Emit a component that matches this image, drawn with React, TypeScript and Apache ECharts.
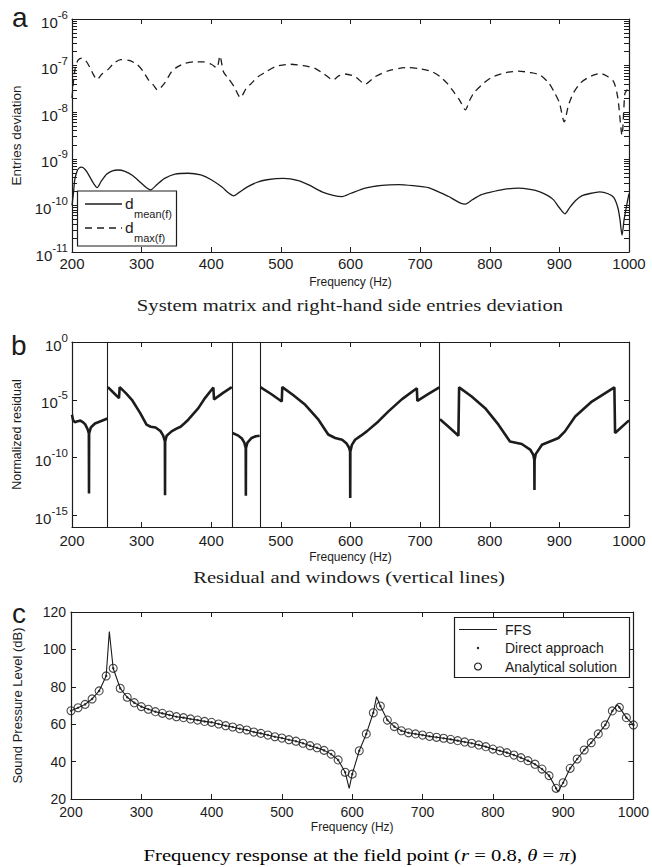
import React, { useEffect, useRef } from 'react';
import * as echarts from 'echarts';

// ---------- Panel a: entries deviation [frequency (Hz), deviation] ----------
const dMean: [number, number][] = [
  [200, 1.0e-10], [202, 1.78e-10], [204, 3.55e-10], [207, 5.25e-10], [210, 6.3e-10], [214, 6.6e-10],
  [220, 5.6e-10], [226, 4.0e-10], [231, 2.95e-10], [236, 2.4e-10], [242, 3.3e-10], [250, 4.7e-10],
  [258, 5.5e-10], [266, 5.75e-10], [276, 5.4e-10], [287, 4.4e-10], [298, 3.15e-10], [307, 2.4e-10],
  [313, 2.15e-10], [322, 2.8e-10], [333, 3.8e-10], [348, 4.7e-10], [367, 4.9e-10], [385, 4.5e-10],
  [400, 3.55e-10], [415, 2.5e-10], [425, 1.85e-10], [432, 1.6e-10], [440, 1.9e-10], [452, 2.5e-10],
  [465, 3.1e-10], [480, 3.55e-10], [504, 3.8e-10], [525, 3.4e-10], [540, 2.75e-10], [559, 1.95e-10],
  [575, 1.65e-10], [588, 1.55e-10], [600, 1.8e-10], [621, 2.35e-10], [645, 2.7e-10], [669, 2.8e-10],
  [690, 2.65e-10], [712, 2.4e-10], [728, 1.9e-10], [741, 1.55e-10], [750, 1.3e-10], [758, 1.12e-10],
  [765, 1.07e-10], [775, 1.32e-10], [788, 1.7e-10], [800, 1.9e-10], [820, 2.2e-10], [841, 2.35e-10],
  [858, 2.2e-10], [872, 1.95e-10], [884, 1.6e-10], [892, 1.3e-10], [900, 8.9e-11], [908, 6.6e-11],
  [915, 9.1e-11], [923, 1.26e-10], [932, 1.6e-10], [944, 1.8e-10], [958, 1.95e-10], [970, 1.78e-10],
  [978, 1.48e-10], [984, 8.9e-11], [987, 5.0e-11], [990, 2.3e-11], [993, 5.0e-11], [996, 8.9e-11],
  [1000, 1.8e-10],
];

const dMax: [number, number][] = [
  [200, 2.0e-8], [202, 4.5e-8], [205, 9.5e-8], [209, 1.32e-7], [214, 1.45e-7], [220, 1.26e-7],
  [226, 8.9e-8], [231, 6.3e-8], [236, 5.0e-8], [243, 6.6e-8], [252, 8.3e-8], [260, 1.12e-7],
  [270, 1.35e-7], [282, 1.29e-7], [293, 1.07e-7], [302, 7.6e-8], [310, 4.9e-8], [317, 3.8e-8],
  [323, 3.0e-8], [333, 4.2e-8], [343, 7.4e-8], [352, 9.5e-8], [362, 1.12e-7], [375, 1.2e-7],
  [389, 1.2e-7], [400, 1.07e-7], [408, 8.9e-8], [412.5, 1.62e-7], [417.5, 7.4e-8], [425, 5.2e-8],
  [433, 3.5e-8], [442, 2.05e-8], [450, 3.2e-8], [458, 4.2e-8], [467, 5.75e-8], [477, 7.1e-8],
  [492, 9.5e-8], [514, 1.07e-7], [532, 1.0e-7], [549, 8.7e-8], [562, 6.6e-8], [575, 4.9e-8],
  [583, 6.0e-8], [592, 6.6e-8], [607, 5.75e-8], [621, 4.0e-8], [635, 5.75e-8], [655, 7.8e-8],
  [670, 8.7e-8], [684, 9.1e-8], [700, 8.5e-8], [717, 7.4e-8], [729, 5.75e-8], [740, 4.0e-8],
  [748, 2.75e-8], [757, 1.78e-8], [765, 1.12e-8], [771, 1.78e-8], [777, 2.57e-8], [788, 3.8e-8],
  [801, 5.4e-8], [820, 6.9e-8], [841, 7.6e-8], [858, 7.1e-8], [872, 6.3e-8], [885, 4.2e-8],
  [892, 2.8e-8], [900, 1.6e-8], [907, 6.2e-9], [913, 1.4e-8], [920, 2.57e-8], [930, 4.2e-8],
  [940, 5.4e-8], [950, 6.3e-8], [959, 6.8e-8], [968, 6.0e-8], [978, 4.5e-8], [984, 2.0e-8],
  [990, 3.2e-9], [994, 2.5e-8], [997, 3.0e-8], [1000, 3.5e-8],
];

// ---------- Panel b: normalized residual per window ----------
const residualWin1: [number, number][] = [
  [200, 5.0e-7], [201.5, 1.78e-7], [204, 1.17e-7], [208, 1.41e-7], [212, 1.58e-7], [216, 1.12e-7],
  [219, 7.4e-8], [222.5, 2.8e-8], [224.2, 1.26e-8], [224.4, 7.9e-14], [224.6, 1.26e-8], [227, 4.0e-8],
  [233, 8.9e-8], [242, 1.45e-7], [251, 2.4e-7],
];
const residualWin2: [number, number][] = [
  [251.5, 1.26e-4], [259, 4.5e-5], [267.5, 1.41e-5], [268.5, 1.26e-4], [277, 4.0e-5], [286, 1.0e-5],
  [298, 7.1e-7], [307, 7.1e-8], [313, 4.7e-8], [320, 4.0e-8], [327, 2.0e-8], [331, 7.9e-9],
  [333.4, 2.5e-9], [333.6, 5.6e-14], [333.8, 2.5e-9], [336, 7.9e-9], [343, 1.86e-8], [350, 3.2e-8],
  [356, 4.7e-8], [362, 1.0e-7], [367, 1.9e-7], [381.5, 1.9e-6], [391, 1.41e-5], [403, 1.15e-4],
  [404, 1.1e-5], [417, 4.0e-5], [429.5, 1.26e-4],
];
const residualWin3: [number, number][] = [
  [430.5, 1.35e-8], [439, 7.9e-9], [444, 4.5e-9], [447.5, 2.0e-9], [449.5, 6.8e-10], [449.7, 5.0e-14],
  [449.9, 6.8e-10], [452, 2.0e-9], [458, 5.0e-9], [464, 7.1e-9], [469.5, 7.9e-9],
];
const residualWin4: [number, number][] = [
  [470.5, 1.26e-4], [486, 3.2e-5], [501.3, 7.1e-6], [502, 1.26e-4], [518, 2.5e-5], [535, 3.7e-6],
  [554, 1.9e-7], [568, 1.0e-8], [578, 5.0e-9], [588, 3.5e-9], [594, 1.78e-9], [598, 7.1e-10],
  [599.4, 3.5e-10], [599.6, 3.2e-14], [599.8, 3.5e-10], [602, 1.26e-9], [606.6, 3.5e-9], [615, 7.9e-9],
  [623.4, 1.86e-8], [640, 1.35e-7], [654.5, 1.0e-6], [674, 1.15e-5], [695.3, 1.0e-4], [696, 8.1e-6],
  [712, 3.2e-5], [727.5, 1.2e-4],
];
const residualWin5: [number, number][] = [
  [728.5, 2.1e-7], [742, 4.0e-8], [755, 7.9e-9], [756, 1.2e-4], [774, 1.95e-5], [793.4, 1.9e-6],
  [812.5, 7.1e-8], [829, 2.5e-9], [846, 1.5e-9], [858, 5.0e-10], [862.5, 1.78e-10], [864, 6.3e-11],
  [864.2, 1.6e-13], [864.4, 6.3e-11], [866, 2.0e-10], [875, 1.3e-9], [898.7, 5.0e-9], [908, 1.86e-8],
  [922.7, 3.6e-7], [946.6, 7.1e-6], [979, 1.2e-4], [980, 1.35e-8], [1000, 1.66e-7],
];
const windowEdges = [251, 430, 470, 728];

// ---------- Panel c: sound pressure level (dB) ----------
const sampleFreq = [
  200, 210, 220, 230, 240, 250, 260, 270, 280, 290, 300, 310, 320, 330, 340, 350, 360, 370, 380, 390,
  400, 410, 420, 430, 440, 450, 460, 470, 480, 490, 500, 510, 520, 530, 540, 550, 560, 570, 580, 590,
  600, 610, 620, 630, 640, 650, 660, 670, 680, 690, 700, 710, 720, 730, 740, 750, 760, 770, 780, 790,
  800, 810, 820, 830, 840, 850, 860, 870, 880, 890, 900, 910, 920, 930, 940, 950, 960, 970, 980, 990, 1000,
];
const analyticalDb = [
  67.2, 68.8, 70.6, 73.5, 77.8, 85.8, 89.9, 79.2, 74.4, 71.5, 69.4, 68.0, 66.7, 65.8, 64.9, 64.0, 63.5, 62.8, 62.2, 61.5,
  61.0, 60.1, 59.2, 58.5, 57.6, 56.9, 55.8, 55.1, 54.2, 53.3, 52.6, 51.7, 50.9, 49.8, 48.5, 47.4, 46.0, 44.0, 40.9, 34.3,
  33.3, 45.8, 54.8, 66.1, 69.7, 62.2, 58.7, 56.5, 55.4, 54.8, 54.2, 53.5, 53.0, 52.5, 51.9, 51.2, 50.5, 49.8, 48.9, 48.0,
  46.7, 45.8, 44.8, 43.5, 42.1, 40.5, 38.6, 36.0, 32.5, 25.7, 28.7, 36.4, 41.4, 46.2, 50.1, 54.8, 59.6, 67.1, 69.0, 63.5, 59.6,
];
const directDb = [
  67.2, 68.8, 70.6, 73.5, 77.8, 85.8, 89.9, 79.2, 74.4, 71.5, 69.4, 68.0, 66.7, 65.8, 64.9, 64.0, 63.5, 62.8, 62.2, 61.5,
  61.0, 60.1, 59.2, 58.5, 57.6, 56.9, 55.8, 55.1, 54.2, 53.3, 52.6, 51.7, 50.9, 49.8, 48.5, 47.4, 46.0, 44.0, 40.9, 34.3,
  33.3, 45.8, 54.8, 66.1, 69.7, 62.2, 58.7, 56.5, 55.4, 54.8, 54.2, 53.5, 53.0, 52.5, 51.9, 51.2, 50.5, 49.8, 48.9, 48.0,
  46.7, 45.8, 44.8, 43.5, 42.1, 40.5, 38.6, 36.0, 32.5, 25.7, 28.7, 36.4, 41.4, 46.2, 50.1, 54.8, 59.6, 67.1, 69.0, 63.5, 59.6,
];
const ffsLine: [number, number][] = [
  [200, 67.2], [210, 68.8], [220, 70.6], [230, 73.5], [240, 77.8], [250, 85.8], [254.5, 109.5], [260, 89.9],
  [270, 79.2], [280, 74.4], [290, 71.5], [300, 69.4], [310, 68.0], [320, 66.7], [330, 65.8], [340, 64.9],
  [350, 64.0], [360, 63.5], [370, 62.8], [380, 62.2], [390, 61.5], [400, 61.0], [410, 60.1], [420, 59.2],
  [430, 58.5], [440, 57.6], [450, 56.9], [460, 55.8], [470, 55.1], [480, 54.2], [490, 53.3], [500, 52.6],
  [510, 51.7], [520, 50.9], [530, 49.8], [540, 48.5], [550, 47.4], [560, 46.0], [570, 44.0], [580, 40.9],
  [590, 34.3], [595.7, 25.7], [600, 33.3], [610, 45.8], [620, 54.8], [630, 66.1], [634.6, 74.7], [640, 69.7],
  [650, 62.2], [660, 58.7], [670, 56.5], [680, 55.4], [690, 54.8], [700, 54.2], [710, 53.5], [720, 53.0],
  [730, 52.5], [740, 51.9], [750, 51.2], [760, 50.5], [770, 49.8], [780, 48.9], [790, 48.0], [800, 46.7],
  [810, 45.8], [820, 44.8], [830, 43.5], [840, 42.1], [850, 40.5], [860, 38.6], [870, 36.0], [880, 32.5],
  [890, 25.7], [892.5, 23.9], [900, 28.7], [910, 36.4], [920, 41.4], [930, 46.2], [940, 50.1], [950, 54.8],
  [960, 59.6], [970, 67.1], [977, 70.3], [980, 69.0], [990, 63.5], [1000, 59.6],
];

// ---------- tick definitions ----------
const aDecades = [-11, -10, -9, -8, -7, -6];
const bDecadeLabels = [-15, -10, -5, 0];

const INK = '#1c1c1c';
const SANS = "'Liberation Sans', Arial, Helvetica, sans-serif";
const SERIF = "'Liberation Serif', 'Times New Roman', serif";

const lg = (v: number) => Math.log10(v);
const toLog = (arr: [number, number][]) => arr.map(([f, v]) => [f, lg(v)]);

function aMinorTicks() {
  const out: number[] = [];
  for (let n = -11; n < -6; n++) {
    for (let k = 1; k <= 9; k++) out.push(n + Math.log10(k));
  }
  out.push(-6);
  return out;
}

function xPair(gi: number, fontSize: number, margin: number, nameGap: number) {
  const common: any = {
    type: 'value', gridIndex: gi, min: 200, max: 1000, interval: 100,
    splitLine: { show: false },
    axisLine: { show: true, onZero: false, lineStyle: { color: INK, width: 1.2 } },
    axisTick: { show: true, inside: true, length: 5, lineStyle: { color: INK, width: 1 } },
  };
  return [
    {
      ...common, position: 'bottom',
      axisLabel: { color: INK, fontSize, fontFamily: SANS, margin, formatter: (v: number) => String(v) },
      name: 'Frequency (Hz)', nameLocation: 'middle', nameGap,
      nameTextStyle: { color: INK, fontSize: 12, fontFamily: SANS },
    },
    { ...common, position: 'top', axisLabel: { show: false } },
  ];
}

const expRich = {
  b: { fontSize: 15, fontFamily: SANS, color: INK, verticalAlign: 'bottom' },
  e: { fontSize: 11.5, fontFamily: SANS, color: INK, verticalAlign: 'top', padding: [0, 0, 9, 0] },
};

function yPair(gi: number, cfg: any) {
  const common: any = {
    type: 'value', gridIndex: gi, min: cfg.min, max: cfg.max,
    splitLine: { show: false },
    axisLine: { show: true, onZero: false, lineStyle: { color: INK, width: 1.2 } },
    axisTick: { show: true, inside: true, length: 5, lineStyle: { color: INK, width: 1 }, customValues: cfg.ticks },
  };
  if (cfg.interval) { common.interval = cfg.interval; delete common.axisTick.customValues; }
  return [
    {
      ...common, position: 'left',
      axisLabel: cfg.labelOpt,
      name: cfg.name, nameLocation: 'middle', nameGap: cfg.nameGap,
      nameTextStyle: { color: INK, fontSize: cfg.nameSize, fontFamily: SANS },
    },
    { ...common, position: 'right', axisLabel: { show: false } },
  ];
}

function buildOption() {
  const grid = [
    { left: 72, top: 19, width: 557, height: 233, containLabel: false },
    { left: 72, top: 342, width: 557, height: 185, containLabel: false },
    { left: 71, top: 612, width: 564, height: 187, containLabel: false },
  ];
  const xAxis = [...xPair(0, 15, 4, 24), ...xPair(1, 15, 6, 24), ...xPair(2, 14, 6, 22)];
  const yAxis = [
    ...yPair(0, {
      min: -11, max: -6, ticks: aMinorTicks(), name: 'Entries deviation', nameGap: 44, nameSize: 13.5,
      labelOpt: {
        customValues: aDecades, margin: 4,
        formatter: (v: number) => `{b|10}{e|${Math.round(v)}}`, rich: expRich,
      },
    }),
    ...yPair(1, {
      min: -16, max: 0, ticks: bDecadeLabels, name: 'Normalized residual', nameGap: 44, nameSize: 12.5,
      labelOpt: {
        customValues: bDecadeLabels, margin: 4,
        formatter: (v: number) => `{b|10}{e|${Math.round(v)}}`, rich: expRich,
      },
    }),
    ...yPair(2, {
      min: 20, max: 120, interval: 20, name: 'Sound Pressure Level (dB)', nameGap: 47, nameSize: 13,
      labelOpt: { color: INK, fontSize: 14, fontFamily: SANS, margin: 5 },
    }),
  ];

  const resStyle = { color: INK, width: 2.6 };
  const resWins = [residualWin1, residualWin2, residualWin3, residualWin4, residualWin5];

  const series: any[] = [
    {
      type: 'line', name: 'd_mean(f)', xAxisIndex: 0, yAxisIndex: 0, data: toLog(dMean),
      symbol: 'none', smooth: 0.25, lineStyle: { color: INK, width: 1.3 }, z: 3,
    },
    {
      type: 'line', name: 'd_max(f)', xAxisIndex: 0, yAxisIndex: 0, data: toLog(dMax),
      symbol: 'none', smooth: 0.25, lineStyle: { color: INK, width: 1.3, type: [7, 5] }, z: 3,
    },
    ...resWins.map((w, i) => ({
      type: 'line', name: 'Residual', xAxisIndex: 2, yAxisIndex: 2, data: toLog(w),
      symbol: 'none', lineStyle: resStyle, z: 3,
      markLine: i === 0 ? {
        silent: true, symbol: ['none', 'none'], label: { show: false },
        lineStyle: { color: INK, width: 1.1, type: 'solid' },
        data: windowEdges.map((e) => ({ xAxis: e })),
      } : undefined,
    })),
    {
      type: 'line', name: 'FFS', xAxisIndex: 4, yAxisIndex: 4, data: ffsLine,
      symbol: 'none', lineStyle: { color: INK, width: 1.1 }, z: 3,
    },
    {
      type: 'scatter', name: 'Direct approach', xAxisIndex: 4, yAxisIndex: 4,
      data: sampleFreq.map((f, i) => [f, directDb[i]]),
      symbol: 'circle', symbolSize: 2.5, itemStyle: { color: INK }, z: 4,
    },
    {
      type: 'scatter', name: 'Analytical solution', xAxisIndex: 4, yAxisIndex: 4,
      data: sampleFreq.map((f, i) => [f, analyticalDb[i]]),
      symbol: 'circle', symbolSize: 8,
      itemStyle: { color: 'rgba(0,0,0,0)', borderColor: INK, borderWidth: 1.1 }, z: 5,
    },
  ];

  const txt = (text: string, x: number, y: number, size: number, extra: any = {}) => ({
    type: 'text', x, y, z: 100, scaleX: extra.scaleX || 1,
    style: {
      text, fill: INK, fontSize: size, fontFamily: SANS,
      align: extra.align || 'left', textAlign: extra.align || 'left',
      verticalAlign: 'middle', textVerticalAlign: 'middle', ...extra.style,
    },
  });

  const CAP_SCALE = 1.18;
  const graphic: any[] = [
    // panel letters
    txt('a', 12, 17, 28),
    txt('b', 11, 345, 28),
    txt('c', 12, 613, 28),
    // captions
    txt('System matrix and right-hand side entries deviation', 350, 305, 17.5, { align: 'center', scaleX: CAP_SCALE, style: { fontFamily: SERIF } }),
    txt('Residual and windows (vertical lines)', 349, 577, 17.5, { align: 'center', scaleX: CAP_SCALE, style: { fontFamily: SERIF } }),
    {
      type: 'text', x: 360, y: 855, z: 100, scaleX: CAP_SCALE,
      style: {
        text: '{n|Frequency response at the field point (}{i|r}{n| = 0.8, }{i|θ}{n| = }{i|π}{n|)}',
        align: 'center', textAlign: 'center', verticalAlign: 'middle', textVerticalAlign: 'middle',
        rich: {
          n: { fontSize: 17.5, fontFamily: SERIF, color: INK },
          i: { fontSize: 17.5, fontFamily: SERIF, fontStyle: 'italic', color: INK },
        },
      },
    },
    // legend panel a
    { type: 'rect', z: 100, shape: { x: 77.5, y: 191, width: 99, height: 55 }, style: { fill: '#fff', stroke: INK, lineWidth: 1.2 } },
    { type: 'line', z: 101, shape: { x1: 85, y1: 204, x2: 122, y2: 204 }, style: { stroke: INK, lineWidth: 1.3 } },
    { type: 'line', z: 101, shape: { x1: 85, y1: 228, x2: 122, y2: 228 }, style: { stroke: INK, lineWidth: 1.3, lineDash: [7, 5] } },
    txt('d', 125, 203, 15.5),
    txt('mean(f)', 134, 214, 11),
    txt('d', 125, 227, 15.5),
    txt('max(f)', 134, 238, 11),
    // legend panel c
    { type: 'rect', z: 100, shape: { x: 454.5, y: 617.5, width: 175, height: 60 }, style: { fill: '#fff', stroke: INK, lineWidth: 1.2 } },
    { type: 'line', z: 101, shape: { x1: 459, y1: 629.5, x2: 497, y2: 629.5 }, style: { stroke: INK, lineWidth: 1.1 } },
    { type: 'circle', z: 101, shape: { cx: 478, cy: 648, r: 1.2 }, style: { fill: INK } },
    { type: 'circle', z: 101, shape: { cx: 478, cy: 666.5, r: 3.5 }, style: { fill: 'none', stroke: INK, lineWidth: 1.1 } },
    txt('FFS', 505, 629.5, 14),
    txt('Direct approach', 505, 648, 14),
    txt('Analytical solution', 505, 666.5, 14),
  ];

  return {
    animation: false,
    backgroundColor: '#fff',
    grid, xAxis, yAxis, series, graphic,
  };
}

export default function App() {
  const ref = useRef<HTMLDivElement>(null);
  useEffect(() => {
    if (!ref.current) return;
    const chart = echarts.init(ref.current, null, { renderer: 'svg' });
    chart.setOption(buildOption() as any);
    return () => chart.dispose();
  }, []);
  return (
    <div
      ref={ref}
      style={{ position: 'fixed', left: 0, top: 0, width: 652, height: 867, background: '#fff' }}
    />
  );
}
